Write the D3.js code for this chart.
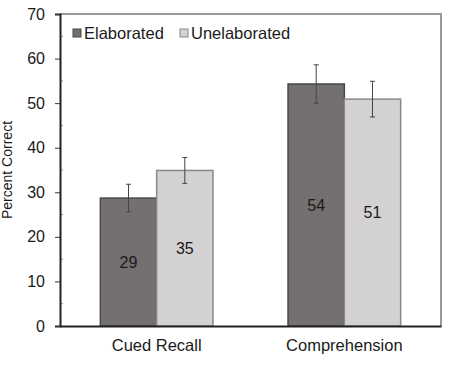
<!DOCTYPE html>
<html>
<head>
<meta charset="utf-8">
<script src="https://cdn.jsdelivr.net/npm/d3@7"></script>
<style>
  body { margin: 0; background: #fff; }
  svg text { font-family: 'Liberation Sans', Arial, sans-serif; fill: #1a1a1a; }
</style>
</head>
<body>
<div class="container"></div>
<script>
const categories = ['Cued Recall', 'Comprehension']
const seriesNames = ['Elaborated', 'Unelaborated']
const elaborated = [28.7, 54.3]
const unelaborated = [34.9, 50.9]
const elaboratedErr = [3.1, 4.3]
const unelaboratedErr = [2.9, 4.0]
const barLabels = [['29', '54'], ['35', '51']]
const yTicks = [0, 10, 20, 30, 40, 50, 60, 70]

const colors = { fill: ['#747070', '#d3d1d2'], stroke: ['#4a4848', '#8a8888'] }

var margin = { top: 14, right: 22, bottom: 52, left: 60 }
var width = 463 - margin.left - margin.right
var height = 378 - margin.top - margin.bottom

var svg = d3.select('.container')
            .append('svg')
            .attr('width', 463)
            .attr('height', 378)
            .append('g')
            .attr('transform', 'translate(' + margin.left + ',' + margin.top + ')')

var x = d3.scaleBand().domain(categories).range([0, width]).paddingInner(0.4).paddingOuter(0.215)
var xs = d3.scaleBand().domain(seriesNames).range([0, x.bandwidth()])
var y = d3.scaleLinear().domain([0, 70]).range([height, 0])

// frame (top and right)
svg.append('path')
   .attr('d', 'M0,0H' + width + 'V' + height)
   .attr('fill', 'none')
   .attr('stroke', '#999')
   .attr('stroke-width', 2)

var series = [elaborated, unelaborated]
var errs = [elaboratedErr, unelaboratedErr]

series.forEach(function (vals, s) {
  var g = svg.append('g')
  g.selectAll('rect')
   .data(vals)
   .enter().append('rect')
   .attr('x', function (d, i) { return x(categories[i]) + xs(seriesNames[s]) })
   .attr('y', function (d) { return y(d) })
   .attr('width', xs.bandwidth())
   .attr('height', function (d) { return height - y(d) })
   .attr('fill', colors.fill[s])
   .attr('stroke', colors.stroke[s])
   .attr('stroke-width', 1.5)

  vals.forEach(function (d, i) {
    var cx = x(categories[i]) + xs(seriesNames[s]) + xs.bandwidth() / 2
    var e = errs[s][i]
    g.append('path')
     .attr('d', 'M' + cx + ',' + y(d + e) + 'V' + y(d - e) +
                'M' + (cx - 2.5) + ',' + y(d + e) + 'H' + (cx + 2.5) +
                'M' + (cx - 2.5) + ',' + y(d - e) + 'H' + (cx + 2.5))
     .attr('stroke', '#444')
     .attr('stroke-width', 1)
     .attr('fill', 'none')
    g.append('text')
     .attr('x', cx)
     .attr('y', (y(d) + height) / 2)
     .attr('dy', '0.35em')
     .attr('text-anchor', 'middle')
     .style('font-size', '16px')
     .text(barLabels[s][i])
  })
})

// Y axis
var yAxis = svg.append('g')
               .call(d3.axisLeft(y).tickValues(yTicks).tickSize(5).tickPadding(10))
yAxis.select('.domain').attr('stroke', '#222').attr('stroke-width', 2)
yAxis.selectAll('line').attr('stroke', '#333')
yAxis.selectAll('text').style('font-size', '16px').attr('fill', '#1a1a1a')

// minor ticks inside
svg.append('g')
   .selectAll('line')
   .data(yTicks.slice(0, -1).map(function (t) { return t + 5 }))
   .enter().append('line')
   .attr('x1', 1).attr('x2', 3)
   .attr('y1', function (d) { return y(d) })
   .attr('y2', function (d) { return y(d) })
   .attr('stroke', '#777')

// X axis
var xAxis = svg.append('g')
               .attr('transform', 'translate(0,' + height + ')')
               .call(d3.axisBottom(x).tickSize(0).tickPadding(13))
xAxis.select('.domain').attr('stroke', '#222').attr('stroke-width', 2)
xAxis.selectAll('text').style('font-size', '16.5px').attr('fill', '#1a1a1a')

// Y label
svg.append('text')
   .attr('transform', 'translate(' + (-48) + ',' + (height / 2) + ') rotate(-90)')
   .attr('text-anchor', 'middle')
   .style('font-size', '14px')
   .text('Percent Correct')

// legend
var legend = svg.append('g').attr('transform', 'translate(13,15)')
var lx = [0, 107]
seriesNames.forEach(function (name, s) {
  legend.append('rect')
        .attr('x', lx[s]).attr('y', 0)
        .attr('width', 8).attr('height', 8)
        .attr('fill', colors.fill[s])
        .attr('stroke', colors.stroke[s])
  legend.append('text')
        .attr('x', lx[s] + 11).attr('y', 4)
        .attr('dy', '0.35em')
        .style('font-size', '16.5px')
        .text(name)
})
</script>
